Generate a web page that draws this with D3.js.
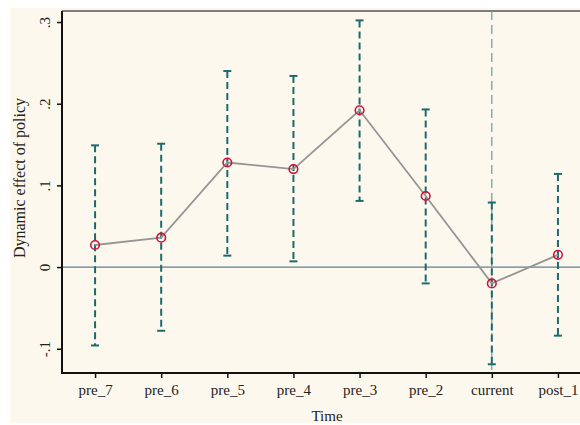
<!DOCTYPE html>
<html><head><meta charset="utf-8">
<script src="https://cdn.jsdelivr.net/npm/d3@7"></script>
<style>html,body{margin:0;padding:0;background:#fff;}svg{display:block;}</style>
</head><body>
<script>
const categories = ["pre_7","pre_6","pre_5","pre_4","pre_3","pre_2","current","post_1"];
const estimates = [0.027, 0.036, 0.128, 0.120, 0.192, 0.087, -0.020, 0.015];
const upper = [0.149, 0.151, 0.240, 0.234, 0.302, 0.193, 0.079, 0.114];
const lower = [-0.096, -0.078, 0.014, 0.007, 0.081, -0.020, -0.119, -0.084];
const yTicks = [-0.1, 0, 0.1, 0.2, 0.3];
const yTickLabels = ["-.1", "0", ".1", ".2", ".3"];
const eventCategory = "current";

(function () {
const W = 580, H = 425;
const svg = d3.select("body").append("svg").attr("width", W).attr("height", H);
svg.append("rect").attr("x", 10).attr("y", 8).attr("width", W - 10).attr("height", 415).attr("fill", "#fdf8ee");

const pLeft = 62, pTop = 11, pBottom = 373;
const x = d3.scaleLinear().domain([-0.5, categories.length - 0.5]).range([pLeft, 591]);
const y = d3.scaleLinear().domain([-0.1297, 0.3135]).range([pBottom, pTop]);
const font = "'Liberation Serif','Times New Roman',serif";

svg.append("line").attr("x1", pLeft).attr("x2", W).attr("y1", pTop).attr("y2", pTop)
  .attr("stroke", "#555").attr("stroke-width", 1.5);

svg.append("line").attr("x1", pLeft).attr("x2", W).attr("y1", y(0)).attr("y2", y(0))
  .attr("stroke", "#5f7f8f").attr("stroke-width", 1.2);

const ei = categories.indexOf(eventCategory);
svg.append("line").attr("x1", x(ei)).attr("x2", x(ei)).attr("y1", pTop).attr("y2", pBottom)
  .attr("stroke", "#6f9a96").attr("stroke-width", 1.2).attr("stroke-dasharray", "9,5");

const g = svg.append("g");
categories.forEach((c, i) => {
  g.append("line").attr("x1", x(i)).attr("x2", x(i)).attr("y1", y(upper[i])).attr("y2", y(lower[i]))
    .attr("stroke", "#1d6a6e").attr("stroke-width", 2).attr("stroke-dasharray", "7,4");
  [upper[i], lower[i]].forEach(v => {
    g.append("line").attr("x1", x(i) - 4).attr("x2", x(i) + 4).attr("y1", y(v)).attr("y2", y(v))
      .attr("stroke", "#1d6a6e").attr("stroke-width", 2);
  });
});

svg.append("path").datum(estimates)
  .attr("d", d3.line().x((d, i) => x(i)).y(d => y(d)))
  .attr("fill", "none").attr("stroke", "#959595").attr("stroke-width", 1.8);

svg.selectAll("circle.pt").data(estimates).enter().append("circle")
  .attr("cx", (d, i) => x(i)).attr("cy", d => y(d)).attr("r", 4.3)
  .attr("fill", "none").attr("stroke", "#d0103a").attr("stroke-width", 1.6);

const xAxis = d3.axisBottom(x).tickValues(d3.range(categories.length))
  .tickFormat(i => categories[i]).tickSize(5).tickSizeOuter(0);
const gx = svg.append("g").attr("transform", `translate(0,${pBottom})`).call(xAxis);
gx.select(".domain").attr("d", `M${pLeft},0H${W}`).attr("stroke", "#111").attr("stroke-width", 2);
gx.selectAll(".tick line").attr("stroke", "#111").attr("stroke-width", 1.5);
gx.selectAll(".tick text").attr("font-family", font).attr("font-size", 15).attr("fill", "#222").attr("dy", "0.9em");

const yAxis = d3.axisLeft(y).tickValues(yTicks).tickFormat((d, i) => yTickLabels[i]).tickSize(5).tickSizeOuter(0);
const gy = svg.append("g").attr("transform", `translate(${pLeft},0)`).call(yAxis);
gy.select(".domain").attr("d", `M0,${pTop}V${pBottom + 1}`).attr("stroke", "#111").attr("stroke-width", 2);
gy.selectAll(".tick line").attr("stroke", "#111").attr("stroke-width", 1.5);
gy.selectAll(".tick text").attr("font-family", font).attr("font-size", 15).attr("fill", "#222")
  .attr("transform", "rotate(-90)").attr("x", 0).attr("y", -12).attr("dy", 0).attr("text-anchor", "middle");

svg.append("text").attr("x", 327).attr("y", 421).attr("text-anchor", "middle")
  .attr("font-family", font).attr("font-size", 15).attr("fill", "#222").text("Time");
svg.append("text").attr("transform", "translate(25,178) rotate(-90)").attr("text-anchor", "middle")
  .attr("font-family", font).attr("font-size", 16).attr("fill", "#222").text("Dynamic effect of policy");
})();
</script>
</body></html>
